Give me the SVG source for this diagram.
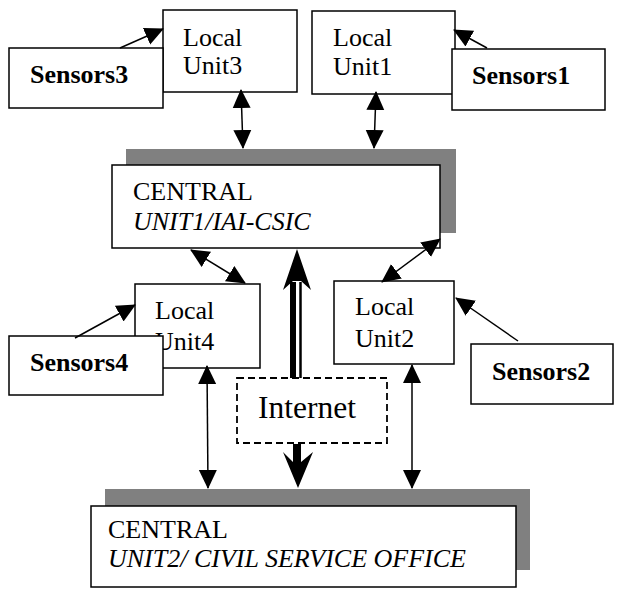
<svg xmlns="http://www.w3.org/2000/svg" width="620" height="589" viewBox="0 0 620 589">
<defs>
<style>
.box{fill:#fff;stroke:#000;stroke-width:1.5}
.shadow{fill:#808080;stroke:none}
.dash{fill:#fff;stroke:#000;stroke-width:1.8;stroke-dasharray:7,4}
.t{font-family:"Liberation Serif","Times New Roman",serif;font-size:26px;fill:#000}
.b{font-weight:bold}
.i{font-style:italic}
.ln{stroke:#000;stroke-width:1.5;fill:none}
</style>
<marker id="ah" markerUnits="userSpaceOnUse" markerWidth="19" markerHeight="19" refX="18" refY="9" orient="auto-start-reverse" viewBox="0 0 19 18">
<path d="M0,0 L19,9 L0,18 z" fill="#000"/>
</marker>
</defs>
<rect width="620" height="589" fill="#fff"/>

<g id="local3">
<rect class="box" x="163" y="10" width="134" height="82"/>
<text class="t" x="183" y="46">Local</text>
<text class="t" x="183" y="74">Unit3</text>
</g>
<g id="sensors3">
<rect class="box" x="9" y="48" width="154" height="60"/>
<text class="t b" x="30" y="83">Sensors3</text>
</g>
<g id="local1">
<rect class="box" x="312" y="11" width="143" height="83"/>
<text class="t" x="333" y="46">Local</text>
<text class="t" x="333" y="75">Unit1</text>
</g>
<g id="sensors1">
<rect class="box" x="452" y="49" width="153" height="61"/>
<text class="t b" x="472" y="84">Sensors1</text>
</g>

<g id="central1">
<rect class="shadow" x="126" y="149" width="330" height="84"/>
<rect class="box" x="112" y="165" width="328" height="83"/>
<text class="t" x="133" y="200">CENTRAL</text>
<text class="t i" x="133" y="230">UNIT1/IAI-CSIC</text>
</g>

<g id="local4">
<rect class="box" x="135" y="284" width="125" height="84"/>
<text class="t" x="155" y="319">Local</text>
<text class="t" x="155" y="350">Unit4</text>
</g>
<g id="sensors4">
<rect class="box" x="9" y="336" width="154" height="59"/>
<text class="t b" x="30" y="371">Sensors4</text>
</g>
<g id="local2">
<rect class="box" x="334" y="281" width="120" height="83"/>
<text class="t" x="355" y="315">Local</text>
<text class="t" x="355" y="347">Unit2</text>
</g>
<g id="sensors2">
<rect class="box" x="471" y="344" width="142" height="60"/>
<text class="t b" x="492" y="380">Sensors2</text>
</g>

<g id="internet">
<rect class="dash" x="237" y="378" width="150" height="65"/>
<text class="t" x="258" y="418" style="font-size:31.5px">Internet</text>
</g>

<g id="central2">
<rect class="shadow" x="105" y="489" width="425" height="81"/>
<rect class="box" x="91" y="506" width="425" height="81"/>
<text class="t" x="108" y="538">CENTRAL</text>
<text class="t i" x="108" y="567">UNIT2/ CIVIL SERVICE OFFICE</text>
</g>

<g id="connectors">
<line class="ln" x1="120" y1="48" x2="163" y2="29" marker-end="url(#ah)"/>
<line class="ln" x1="487" y1="48" x2="454" y2="30" marker-end="url(#ah)"/>
<line class="ln" x1="241" y1="90" x2="243" y2="148" marker-start="url(#ah)" marker-end="url(#ah)"/>
<line class="ln" x1="376" y1="92" x2="374" y2="148" marker-start="url(#ah)" marker-end="url(#ah)"/>
<line class="ln" x1="191" y1="250" x2="245" y2="283" marker-start="url(#ah)" marker-end="url(#ah)"/>
<line class="ln" x1="440" y1="239" x2="382" y2="282" marker-start="url(#ah)" marker-end="url(#ah)"/>
<line class="ln" x1="75" y1="338" x2="135" y2="305" marker-end="url(#ah)"/>
<line class="ln" x1="518" y1="341" x2="456" y2="298" marker-end="url(#ah)"/>
<line class="ln" x1="207" y1="366" x2="208" y2="488" marker-start="url(#ah)" marker-end="url(#ah)"/>
<line class="ln" x1="412" y1="365" x2="412" y2="488" marker-start="url(#ah)" marker-end="url(#ah)"/>
<line x1="293" y1="282" x2="293" y2="378" stroke="#000" stroke-width="6"/>
<line x1="300.5" y1="282" x2="300.5" y2="378" stroke="#000" stroke-width="2.5"/>
<polygon points="297,249 311,290 301,281 293,281 283,290" fill="#000"/>
<polygon points="293,444 301,444 301,462 313,452 298,488 283,452 293,462" fill="#000"/>
</g>
</svg>
